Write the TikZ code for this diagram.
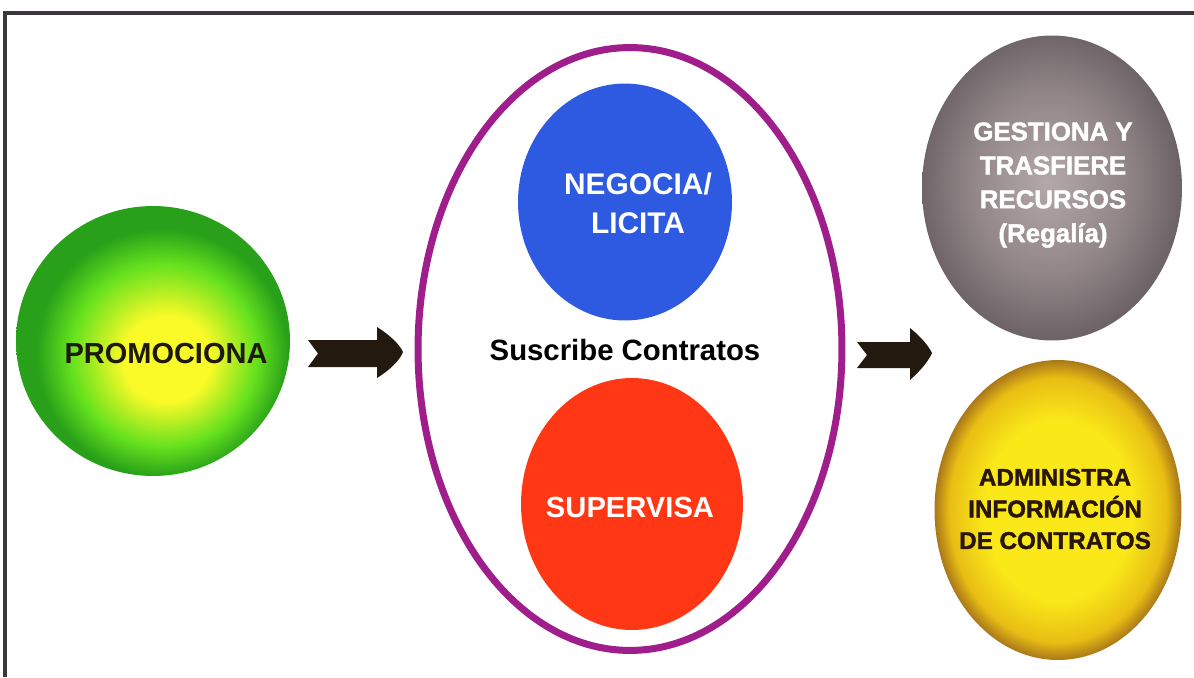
\documentclass[tikz,border=0pt]{standalone}
\usepackage{fontspec}
\setmainfont{Liberation Sans}
\newfontfamily\heavyfont[FakeBold=1.6]{Liberation Sans Bold}
\usetikzlibrary{shapes.geometric}

\definecolor{framegray}{RGB}{60,55,60}
\definecolor{ringpurple}{RGB}{160,30,140}
\definecolor{ballblue}{RGB}{45,90,225}
\definecolor{ballred}{RGB}{255,55,20}
\definecolor{arrowdark}{RGB}{35,25,15}
\definecolor{textdark}{RGB}{30,25,10}
\definecolor{textbrown}{RGB}{40,22,10}

\definecolor{gYellow}{RGB}{250,250,40}
\definecolor{gMid}{RGB}{100,225,30}
\definecolor{gEdge}{RGB}{40,160,25}
\definecolor{sLight}{RGB}{180,168,170}
\definecolor{sMid}{RGB}{145,133,135}
\definecolor{sEdge}{RGB}{110,100,104}
\definecolor{oLight}{RGB}{250,232,25}
\definecolor{oMid}{RGB}{232,190,20}
\definecolor{oEdge}{RGB}{170,120,25}

% radial fills; the path boundary sits at 25bp
\pgfdeclareradialshading{greenball}{\pgfpoint{3bp}{-4bp}}{%
  color(0bp)=(gYellow); color(8bp)=(gYellow); color(17bp)=(gMid);
  color(23bp)=(gEdge); color(50bp)=(gEdge)}
\pgfdeclareradialshading{silverball}{\pgfpoint{-1bp}{1bp}}{%
  color(0bp)=(sLight); color(15bp)=(sMid); color(25bp)=(sEdge);
  color(50bp)=(sEdge)}
\pgfdeclareradialshading{goldball}{\pgfpoint{0bp}{0bp}}{%
  color(0bp)=(oLight); color(15bp)=(oLight); color(22bp)=(oMid);
  color(25bp)=(oEdge); color(50bp)=(oEdge)}

\tikzset{
  ball/.style={ellipse, inner sep=0pt},
  label text/.style={font=\bfseries, align=center, inner sep=0pt},
  block arrow/.style={fill=arrowdark, draw=none},
}

\begin{document}
\begin{tikzpicture}[x=0.02cm, y=-0.02cm]
\useasboundingbox (0,0) rectangle (1194,677);

% frame edges
\draw[framegray, line width=2.5pt] (5,677) -- (5,13) -- (1194,13);

% left ball
\node[ball, shading=greenball, minimum width=5.48cm, minimum height=5.4cm]
  (promo) at (153,341) {};
\node[label text, text=textdark, font=\bfseries\fontsize{16.5}{20}\selectfont]
  (promotxt) at (166,354) {PROMOCIONA};

% central ring with two balls
\node[ball, draw=ringpurple, line width=0.14cm, minimum width=8.48cm, minimum height=12.06cm]
  (ring) at (630,349) {};
\node[ball, fill=ballblue, minimum width=4.28cm, minimum height=4.74cm]
  (nego) at (625,202) {};
\node[label text, text=white, font=\bfseries\fontsize{17}{22}\selectfont]
  (negotxt) at (638,203) {NEGOCIA/\\LICITA};
\node[label text, text=black, font=\bfseries\fontsize{16.7}{20}\selectfont]
  (suscr) at (625,350) {Suscribe Contratos};
\node[ball, fill=ballred, minimum width=4.44cm, minimum height=5.04cm]
  (super) at (632,504) {};
\node[label text, text=white, font=\bfseries\fontsize{16.6}{20}\selectfont]
  (supertxt) at (630,507) {SUPERVISA};

% right balls
\node[ball, shading=silverball, minimum width=5.2cm, minimum height=6.1cm]
  (gest) at (1052,188) {};
\node[label text, text=white, font=\heavyfont\fontsize{14.7}{19.3}\selectfont]
  (gesttxt) at (1053,185) {GESTIONA Y\\TRASFIERE\\RECURSOS\\(Regalía)};
\node[ball, shading=goldball, minimum width=4.94cm, minimum height=6.0cm]
  (admin) at (1058,510) {};
\node[label text, text=textbrown, font=\heavyfont\fontsize{13.8}{18}\selectfont]
  (admintxt) at (1055,509) {ADMINISTRA\\INFORMACIÓN\\DE CONTRATOS};

% notched block arrows
\fill[block arrow] (308,340) -- (377,340) -- (377,327)
  .. controls (390,335) and (400,345) .. (403,352)
  .. controls (400,360) and (390,370) .. (377,378)
  -- (377,367) -- (308,367) -- (318,353.5) -- cycle;
\fill[block arrow] (857,342) -- (910,342) -- (910,328)
  .. controls (920,336) and (928,345) .. (932,353)
  .. controls (928,362) and (920,371) .. (910,380)
  -- (910,368) -- (857,368) -- (867,355) -- cycle;
\end{tikzpicture}
\end{document}
